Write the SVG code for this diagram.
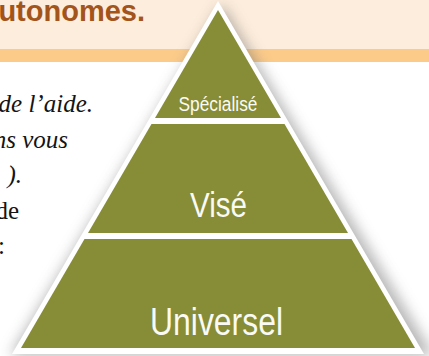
<svg xmlns="http://www.w3.org/2000/svg" width="429" height="356" viewBox="0 0 429 356">
  <defs>
    <filter id="shadow" x="-20%" y="-20%" width="140%" height="140%">
      <feGaussianBlur stdDeviation="7"/>
    </filter>
    <style>
      .tier { fill: #878C36; }
      .lbl { fill: #FAFAF4; font-family: "Liberation Sans", Arial, sans-serif; text-anchor: middle; }
      .body { font-family: "Liberation Serif", "Times New Roman", serif; font-size: 25px; fill: #141414; text-anchor: end; }
      .it { font-style: italic; }
    </style>
  </defs>
  <rect x="0" y="0" width="429" height="356" fill="#FFFFFF"/>
  <rect x="0" y="0" width="429" height="49" fill="#FDEDDC"/>
  <rect x="0" y="49" width="429" height="13" fill="#FCCB8A"/>
  <text x="145" y="21" font-family="Liberation Sans, Arial, sans-serif" font-weight="bold" font-size="29" fill="#A3541B" text-anchor="end">utonomes.</text>

  <g id="body-text">
    <text class="body it" x="93" y="112">de l’aide.</text>
    <text class="body it" x="68" y="148">ns vous</text>
    <text class="body it" x="22" y="183">).</text>
    <text class="body" x="19" y="219">de</text>
    <text class="body" x="5" y="254">:</text>
  </g>

  <g id="pyramid">
    <polygon points="222,4 10,356 434,356" fill="#707070" opacity="0.5" filter="url(#shadow)"/>
    <polygon points="218,1 12,354 424,354" fill="#FFFFFF"/>
    <g id="tier-specialise">
      <polygon class="tier" points="218,10 281,118 155,118"/>
      <text class="lbl" x="218" y="111" font-size="20" textLength="79" lengthAdjust="spacingAndGlyphs">Spécialisé</text>
    </g>
    <g id="tier-vise">
      <polygon class="tier" points="151.5,124 284.5,124 348,233 88,233"/>
      <text class="lbl" x="218.5" y="217" font-size="35" textLength="57" lengthAdjust="spacingAndGlyphs">Visé</text>
    </g>
    <g id="tier-universel">
      <polygon class="tier" points="84.5,239 351.5,239 415,348 21,348"/>
      <text class="lbl" x="216.5" y="335" font-size="38" textLength="133" lengthAdjust="spacingAndGlyphs">Universel</text>
    </g>
  </g>
</svg>
